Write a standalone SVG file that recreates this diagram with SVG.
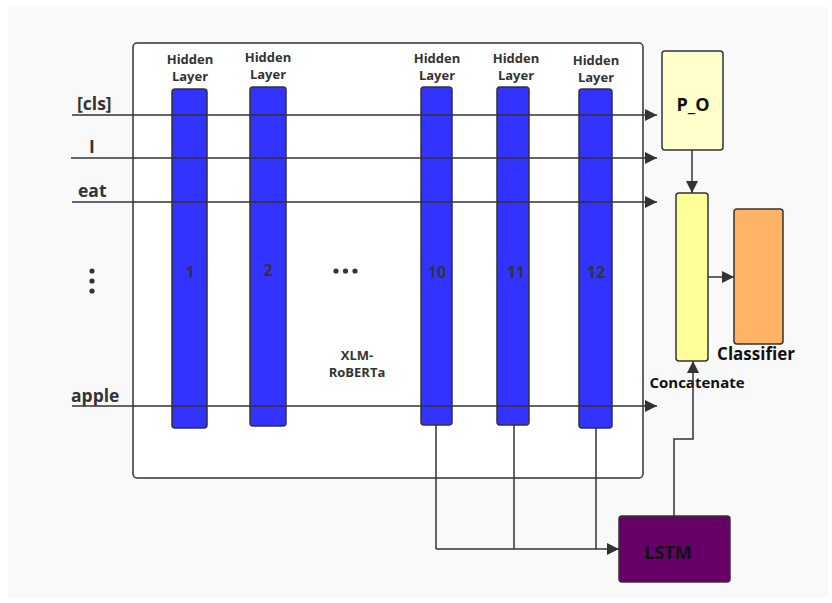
<svg xmlns="http://www.w3.org/2000/svg" width="832" height="603" viewBox="0 0 832 603">
<style>
text{font-family:"Open Sans","Noto Sans","Liberation Sans",sans-serif;font-weight:bold;fill:#333}
.hl{font-size:13px;text-anchor:middle}
.num{font-size:16px;text-anchor:middle}
.tok{font-size:17.5px}
.bar{fill:#3333ff;stroke:#333;stroke-width:1.5}
.ln{stroke:#333;stroke-width:1.5;fill:none}
</style>
<defs>
<marker id="ah" viewBox="0 0 10 10" refX="10" refY="5" markerWidth="15" markerHeight="12" markerUnits="userSpaceOnUse" orient="auto">
<path d="M0,0 L10,5 L0,10 z" fill="#333"/>
</marker>
</defs>
<rect x="0" y="0" width="832" height="603" fill="#ffffff"/>
<rect x="8" y="7" width="820" height="591" fill="#f9f9f9"/>
<g id="container">
<rect x="133" y="43" width="510" height="435" rx="4" fill="#ffffff" stroke="#333" stroke-width="1.5"/>
<text x="357" y="360" class="hl">XLM-</text>
<text x="357" y="377" class="hl">RoBERTa</text>
</g>
<g id="bar1"><rect class="bar" x="172" y="89" width="35" height="339" rx="3"/><text class="hl" x="190" y="64">Hidden</text><text class="hl" x="190" y="81">Layer</text><text class="num" x="190" y="278">1</text></g>
<g id="bar2"><rect class="bar" x="250" y="87" width="36" height="339" rx="3"/><text class="hl" x="268" y="62">Hidden</text><text class="hl" x="268" y="79">Layer</text><text class="num" x="268" y="276">2</text></g>
<g id="bar10"><rect class="bar" x="421" y="87" width="31" height="338" rx="3"/><text class="hl" x="437" y="63">Hidden</text><text class="hl" x="437" y="80">Layer</text><text class="num" x="437" y="278">10</text></g>
<g id="bar11"><rect class="bar" x="497" y="87" width="32" height="338" rx="3"/><text class="hl" x="516" y="63">Hidden</text><text class="hl" x="516" y="80">Layer</text><text class="num" x="516" y="278">11</text></g>
<g id="bar12"><rect class="bar" x="579" y="89" width="33" height="339" rx="3"/><text class="hl" x="596" y="65">Hidden</text><text class="hl" x="596" y="82">Layer</text><text class="num" x="596" y="278">12</text></g>
<g id="ellipsis">
<circle cx="336" cy="271" r="2.6" fill="#333"/><circle cx="345.5" cy="271" r="2.6" fill="#333"/><circle cx="355" cy="271" r="2.6" fill="#333"/>
<circle cx="92" cy="271" r="2.6" fill="#333"/><circle cx="92" cy="281" r="2.6" fill="#333"/><circle cx="92" cy="291" r="2.6" fill="#333"/>
</g>
<g id="tokens">
<text class="tok" x="77" y="110">[cls]</text>
<text class="tok" x="89" y="153">I</text>
<text class="tok" x="78" y="197">eat</text>
<text class="tok" x="71" y="402">apple</text>
</g>
<g id="po"><rect x="662" y="51" width="61" height="99" rx="3" fill="#ffffcc" stroke="#333" stroke-width="1.5"/><text x="693" y="111" font-size="18" text-anchor="middle" style="fill:#111">P_O</text></g>
<g id="concat"><rect x="676" y="193" width="32" height="168" rx="3" fill="#ffff99" stroke="#333" stroke-width="1.5"/><text x="697" y="388" font-size="15" text-anchor="middle" style="fill:#111">Concatenate</text></g>
<g id="classifier"><rect x="734" y="209" width="49" height="135" rx="3" fill="#ffb366" stroke="#333" stroke-width="1.5"/><text x="756" y="360" font-size="17" text-anchor="middle" style="fill:#111">Classifier</text></g>
<g id="lstm"><rect x="619" y="516" width="111" height="66" rx="3" fill="#660066" stroke="#333" stroke-width="1.5"/><text x="668" y="559" font-size="18" text-anchor="middle" style="fill:#111">LSTM</text></g>
<g id="connectors">
<line class="ln" x1="72" y1="115" x2="657" y2="115" marker-end="url(#ah)"/>
<line class="ln" x1="71" y1="158" x2="657" y2="158" marker-end="url(#ah)"/>
<line class="ln" x1="72" y1="202" x2="657" y2="202" marker-end="url(#ah)"/>
<line class="ln" x1="72" y1="406" x2="657" y2="406" marker-end="url(#ah)"/>
<line class="ln" x1="692" y1="150" x2="692" y2="193" marker-end="url(#ah)"/>
<line class="ln" x1="708" y1="277" x2="734" y2="277" marker-end="url(#ah)"/>
<polyline class="ln" points="674,516 674,439 693,439 693,361" marker-end="url(#ah)"/>
<line class="ln" x1="436" y1="425" x2="436" y2="549"/>
<line class="ln" x1="514" y1="425" x2="514" y2="549"/>
<line class="ln" x1="596" y1="428" x2="596" y2="549"/>
<line class="ln" x1="436" y1="549" x2="619" y2="549" marker-end="url(#ah)"/>
</g>
</svg>
